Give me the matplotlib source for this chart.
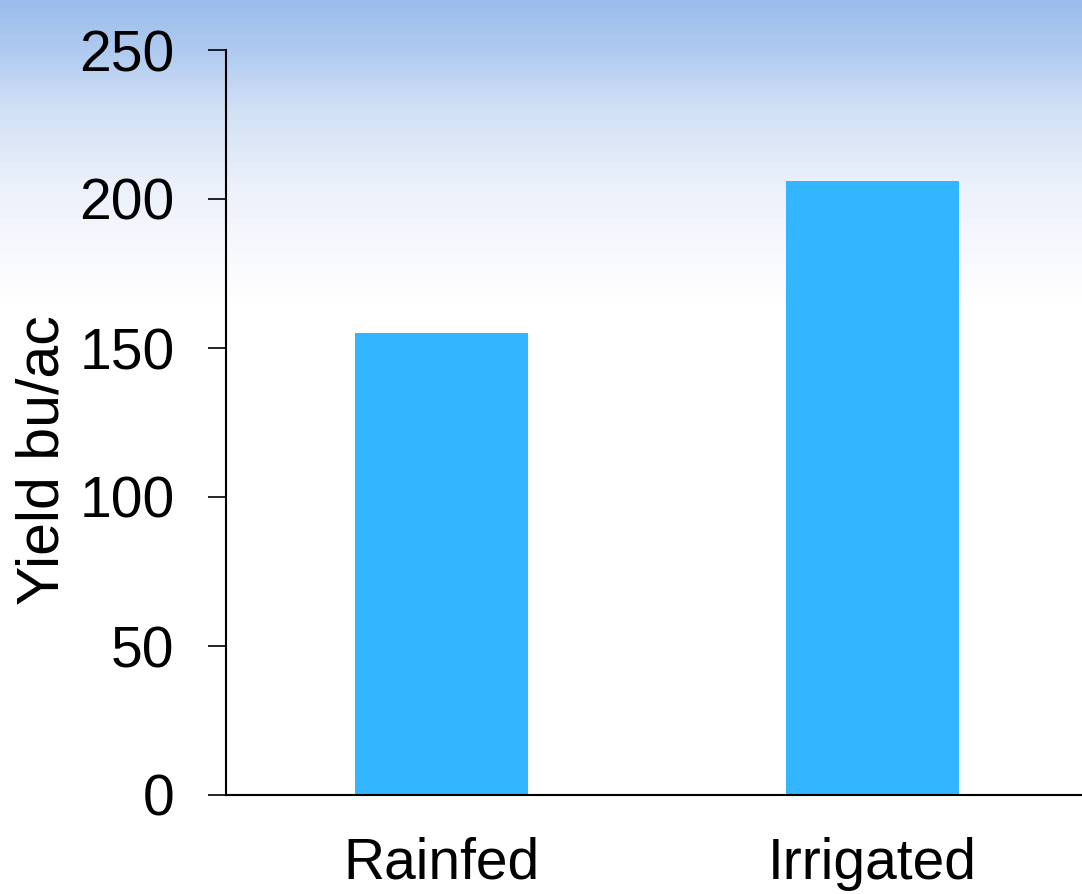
import numpy as np
import matplotlib
matplotlib.use("Agg")
import matplotlib.pyplot as plt
from matplotlib.colors import LinearSegmentedColormap

categories = ["Rainfed", "Irrigated"]
yields = [155, 206]
y_ticks = [0, 50, 100, 150, 200, 250]
y_label = "Yield bu/ac"

plt.rcParams["font.family"] = ["Liberation Sans", "DejaVu Sans"]

W, H = 1082, 894
fig = plt.figure(figsize=(W / 100, H / 100), dpi=100)

# sky-blue to white background wash across the whole figure
bg = fig.add_axes([0, 0, 1, 1], zorder=0)
grad = np.linspace(0, 1, 894).reshape(-1, 1)
cmap = LinearSegmentedColormap.from_list(
    "wash", [(0.0, "#9bbdeb"), (0.06, "#b2ccf0"), (0.12, "#d2e0f5"),
             (0.20, "#eaeffa"), (0.26, "#f5f7fd"), (0.34, "#ffffff"),
             (1.0, "#ffffff")])
bg.imshow(grad, aspect="auto", cmap=cmap, extent=[0, 1, 1, 0])
bg.set_axis_off()

ax = fig.add_axes([226 / W, 99 / H, (W - 226) / W, (795 - 50) / H], zorder=1)
ax.patch.set_alpha(0)

x = np.arange(len(categories))
ax.bar(x, yields, width=0.4, color="#33b5ff", edgecolor="none")

ax.set_xlim(-0.5, 1.486)
ax.set_ylim(0, 250)
ax.set_yticks(y_ticks)
ax.set_xticks(x)
ax.set_xticklabels(categories)

for s in ["top", "right"]:
    ax.spines[s].set_visible(False)
for s in ["left", "bottom"]:
    ax.spines[s].set_linewidth(1.5)
    ax.spines[s].set_color("black")

ax.tick_params(axis="y", direction="out", length=13, width=1.2,
               labelsize=41, pad=24)
ax.tick_params(axis="x", length=0, labelsize=41, pad=30)

fig.text(43 / W, 1 - 460 / H, y_label, rotation=90, fontsize=42.5,
         ha="center", va="center")

fig.savefig("out.png", dpi=100)
